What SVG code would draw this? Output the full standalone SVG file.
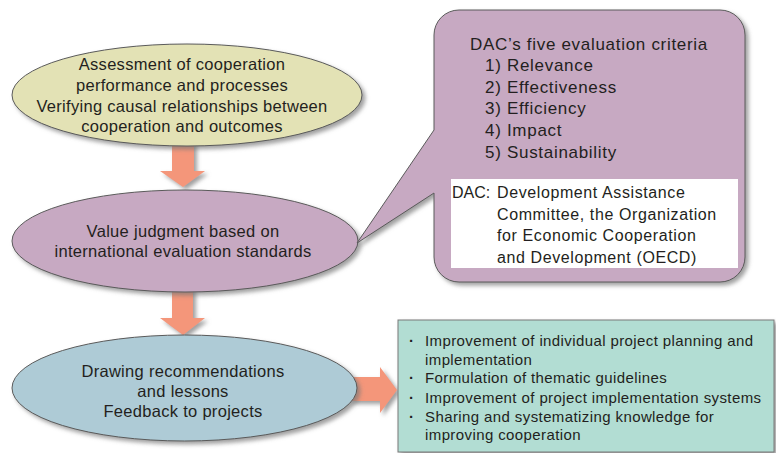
<svg xmlns="http://www.w3.org/2000/svg" width="776" height="453" viewBox="0 0 776 453">
<defs>
<filter id="sh" x="-10%" y="-10%" width="130%" height="130%">
<feDropShadow dx="3" dy="3" stdDeviation="2" flood-color="#777" flood-opacity="0.7"/>
</filter>
</defs>
<style>
text{font-family:"Liberation Sans",Arial,sans-serif;fill:#231f20}
.el{font-size:16.5px;letter-spacing:0.3px;text-anchor:middle}
.co{font-size:17px;letter-spacing:0.7px}
.wb{font-size:16px;letter-spacing:0.6px}
.bl{font-size:15px;letter-spacing:0.4px}
.dot{font-weight:bold}
.arr{fill:#f4967a;filter:url(#sh)}
.edge{stroke:#5a5a5a;stroke-width:1}
</style>
<rect width="776" height="453" fill="#fff"/>
<g id="connectors">
<path class="arr" d="M172 140 H194 V171 H205 L183 187 L160 171 H172 Z"/>
<path class="arr" d="M172 285 H193 V318 H205 L183 335 L160 318 H172 Z"/>
<path class="arr" d="M350 377 H380 V367 L397 390 L380 413 V401 H350 Z"/>
</g>
<g id="node-assessment">
<ellipse cx="187" cy="95" rx="175" ry="51" fill="#e3e2b5" class="edge" filter="url(#sh)"/>
<text class="el" x="182" y="70">Assessment of cooperation</text>
<text class="el" x="182" y="91">performance and processes</text>
<text class="el" x="182" y="112">Verifying causal relationships between</text>
<text class="el" x="182" y="132">cooperation and outcomes</text>
</g>
<g id="node-value">
<ellipse cx="185" cy="241" rx="173" ry="51" fill="#c7a9c2" class="edge" filter="url(#sh)"/>
<text class="el" x="183" y="237">Value judgment based on</text>
<text class="el" x="183" y="257">international evaluation standards</text>
</g>
<g id="node-recommend">
<ellipse cx="184.5" cy="388" rx="172.5" ry="53" fill="#aecbd6" class="edge" filter="url(#sh)"/>
<text class="el" x="183" y="377">Drawing recommendations</text>
<text class="el" x="183" y="397">and lessons</text>
<text class="el" x="183" y="417">Feedback to projects</text>
</g>
<g id="node-criteria">
<path d="M459 10 H720 A25 25 0 0 1 745 35 V257 A25 25 0 0 1 720 282 H459 A25 25 0 0 1 434 257 V193 L357 243 L434 130 V35 A25 25 0 0 1 459 10 Z" fill="#c7a9c2" class="edge" filter="url(#sh)"/>
<text class="co" x="470" y="49.5">DAC’s five evaluation criteria</text>
<text class="co" x="485" y="71">1) Relevance</text>
<text class="co" x="485" y="92.7">2) Effectiveness</text>
<text class="co" x="485" y="114.4">3) Efficiency</text>
<text class="co" x="485" y="136">4) Impact</text>
<text class="co" x="485" y="157.8">5) Sustainability</text>
<rect x="451" y="179" width="287" height="89" fill="#fff"/>
<text class="wb" y="198"><tspan x="452" style="letter-spacing:0">DAC:</tspan><tspan x="497">Development Assistance</tspan></text>
<text class="wb" x="497" y="219.7">Committee, the Organization</text>
<text class="wb" x="497" y="241.4">for Economic Cooperation</text>
<text class="wb" x="497" y="263">and Development (OECD)</text>
</g>
<g id="node-feedback">
<rect x="398" y="320" width="376" height="132" fill="#b2ddd3" stroke="#7a7a7a" stroke-width="1" filter="url(#sh)"/>
<text class="bl" y="346"><tspan class="dot" x="409">·</tspan><tspan x="425">Improvement of individual project planning and</tspan></text>
<text class="bl" x="425" y="365">implementation</text>
<text class="bl" y="383"><tspan class="dot" x="409">·</tspan><tspan x="425">Formulation of thematic guidelines</tspan></text>
<text class="bl" y="403"><tspan class="dot" x="409">·</tspan><tspan x="425">Improvement of project implementation systems</tspan></text>
<text class="bl" y="422"><tspan class="dot" x="409">·</tspan><tspan x="425">Sharing and systematizing knowledge for</tspan></text>
<text class="bl" x="425" y="440">improving cooperation</text>
</g>
</svg>
